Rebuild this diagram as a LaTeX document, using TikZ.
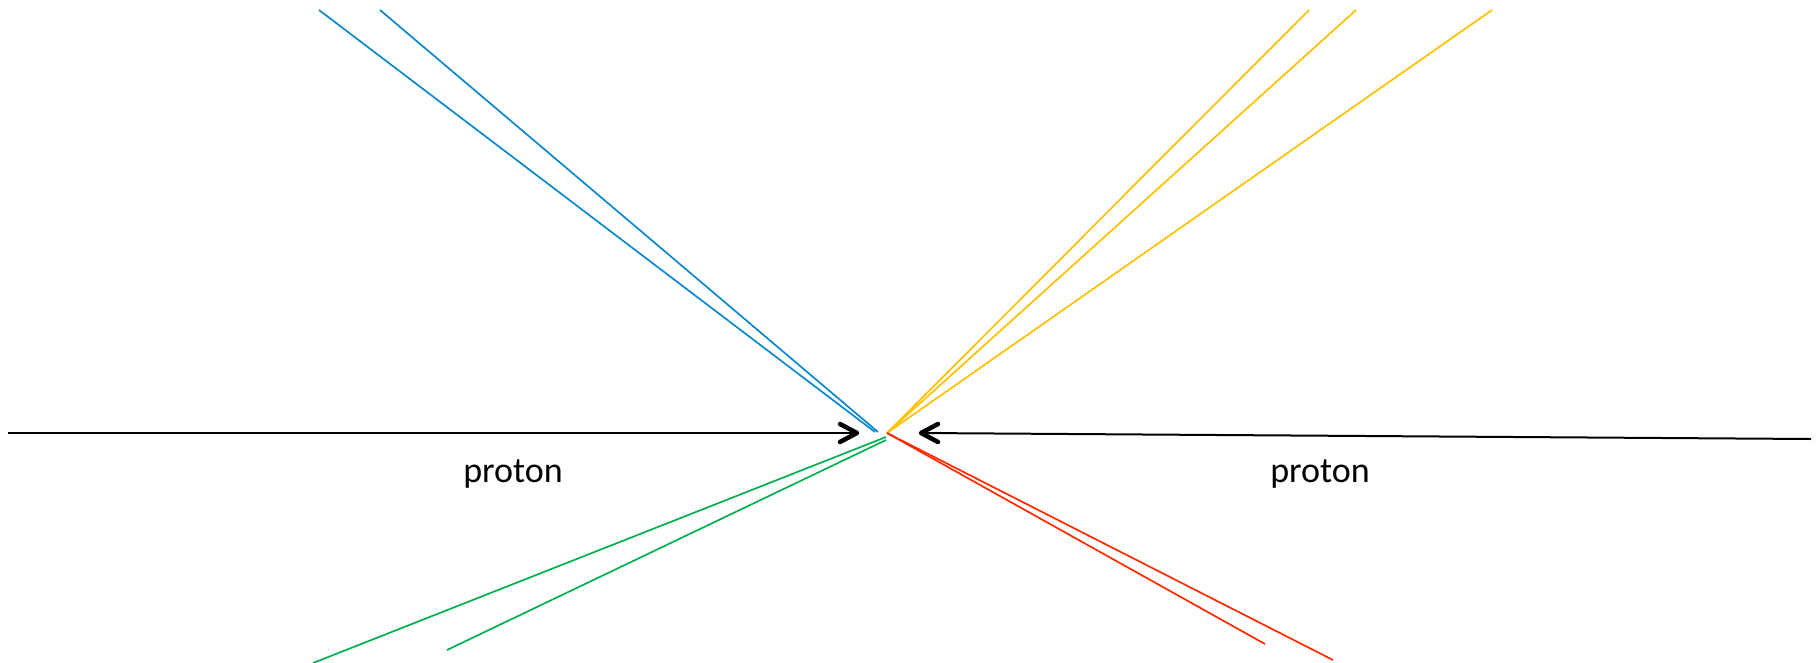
\documentclass[tikz,border=0pt]{standalone}
\usepackage{fontspec}
\setmainfont{Carlito}
\usetikzlibrary{calc}
\definecolor{pblue}{HTML}{0A88CC}
\definecolor{pyellow}{HTML}{FFC000}
\definecolor{pgreen}{HTML}{00B050}
\definecolor{pred}{HTML}{FF2A00}
\tikzset{
  track/.style={line width=1.7pt},
  beam/.style={line width=2pt, black},
  chev/.style={line width=4.5pt, black, line cap=round, line join=round},
  lbl/.style={font=\fontsize{36}{40}\selectfont, anchor=base, inner sep=0pt}
}
\begin{document}
\begin{tikzpicture}[x=1pt,y=-1pt]
\useasboundingbox (0,0) rectangle (1816,662);
\coordinate (c) at (887,433);
\coordinate (bE1) at (875,432);
\coordinate (bE2) at (878,432);
\coordinate (b1) at (319,10);
\coordinate (b2) at (380,10);
\coordinate (y1) at (1309,10);
\coordinate (y2) at (1356,10);
\coordinate (y3) at (1492,10);
\coordinate (gE1) at (886,437);
\coordinate (gE2) at (886,440);
\coordinate (g1) at (313,663);
\coordinate (g2) at (447,650);
\coordinate (r1) at (1265,644);
\coordinate (r2) at (1333,660);
\coordinate (lS) at (8,433);
\coordinate (lT) at (857,433);
\coordinate (rS) at (1811,439);
\coordinate (rT) at (921,433);
\draw[track,pblue] (b1) -- (bE1);
\draw[track,pblue] (b2) -- (bE2);
\draw[track,pyellow] (c) -- (y1);
\draw[track,pyellow] (c) -- (y2);
\draw[track,pyellow] (c) -- (y3);
\draw[track,pgreen] (g1) -- (gE1);
\draw[track,pgreen] (g2) -- (gE2);
\draw[track,pred] (c) -- (r1);
\draw[track,pred] (c) -- (r2);
\draw[beam] (lS) -- (lT);
\draw[beam] (rS) -- (rT);
\draw[chev] ($(lT)+(-17,-9)$) -- (lT) -- ($(lT)+(-17,9)$);
\draw[chev] ($(rT)+(17,-9)$) -- (rT) -- ($(rT)+(17,9)$);
\node[lbl] (pl) at (513,482) {proton};
\node[lbl] (pr) at (1320,482) {proton};
\end{tikzpicture}
\end{document}
